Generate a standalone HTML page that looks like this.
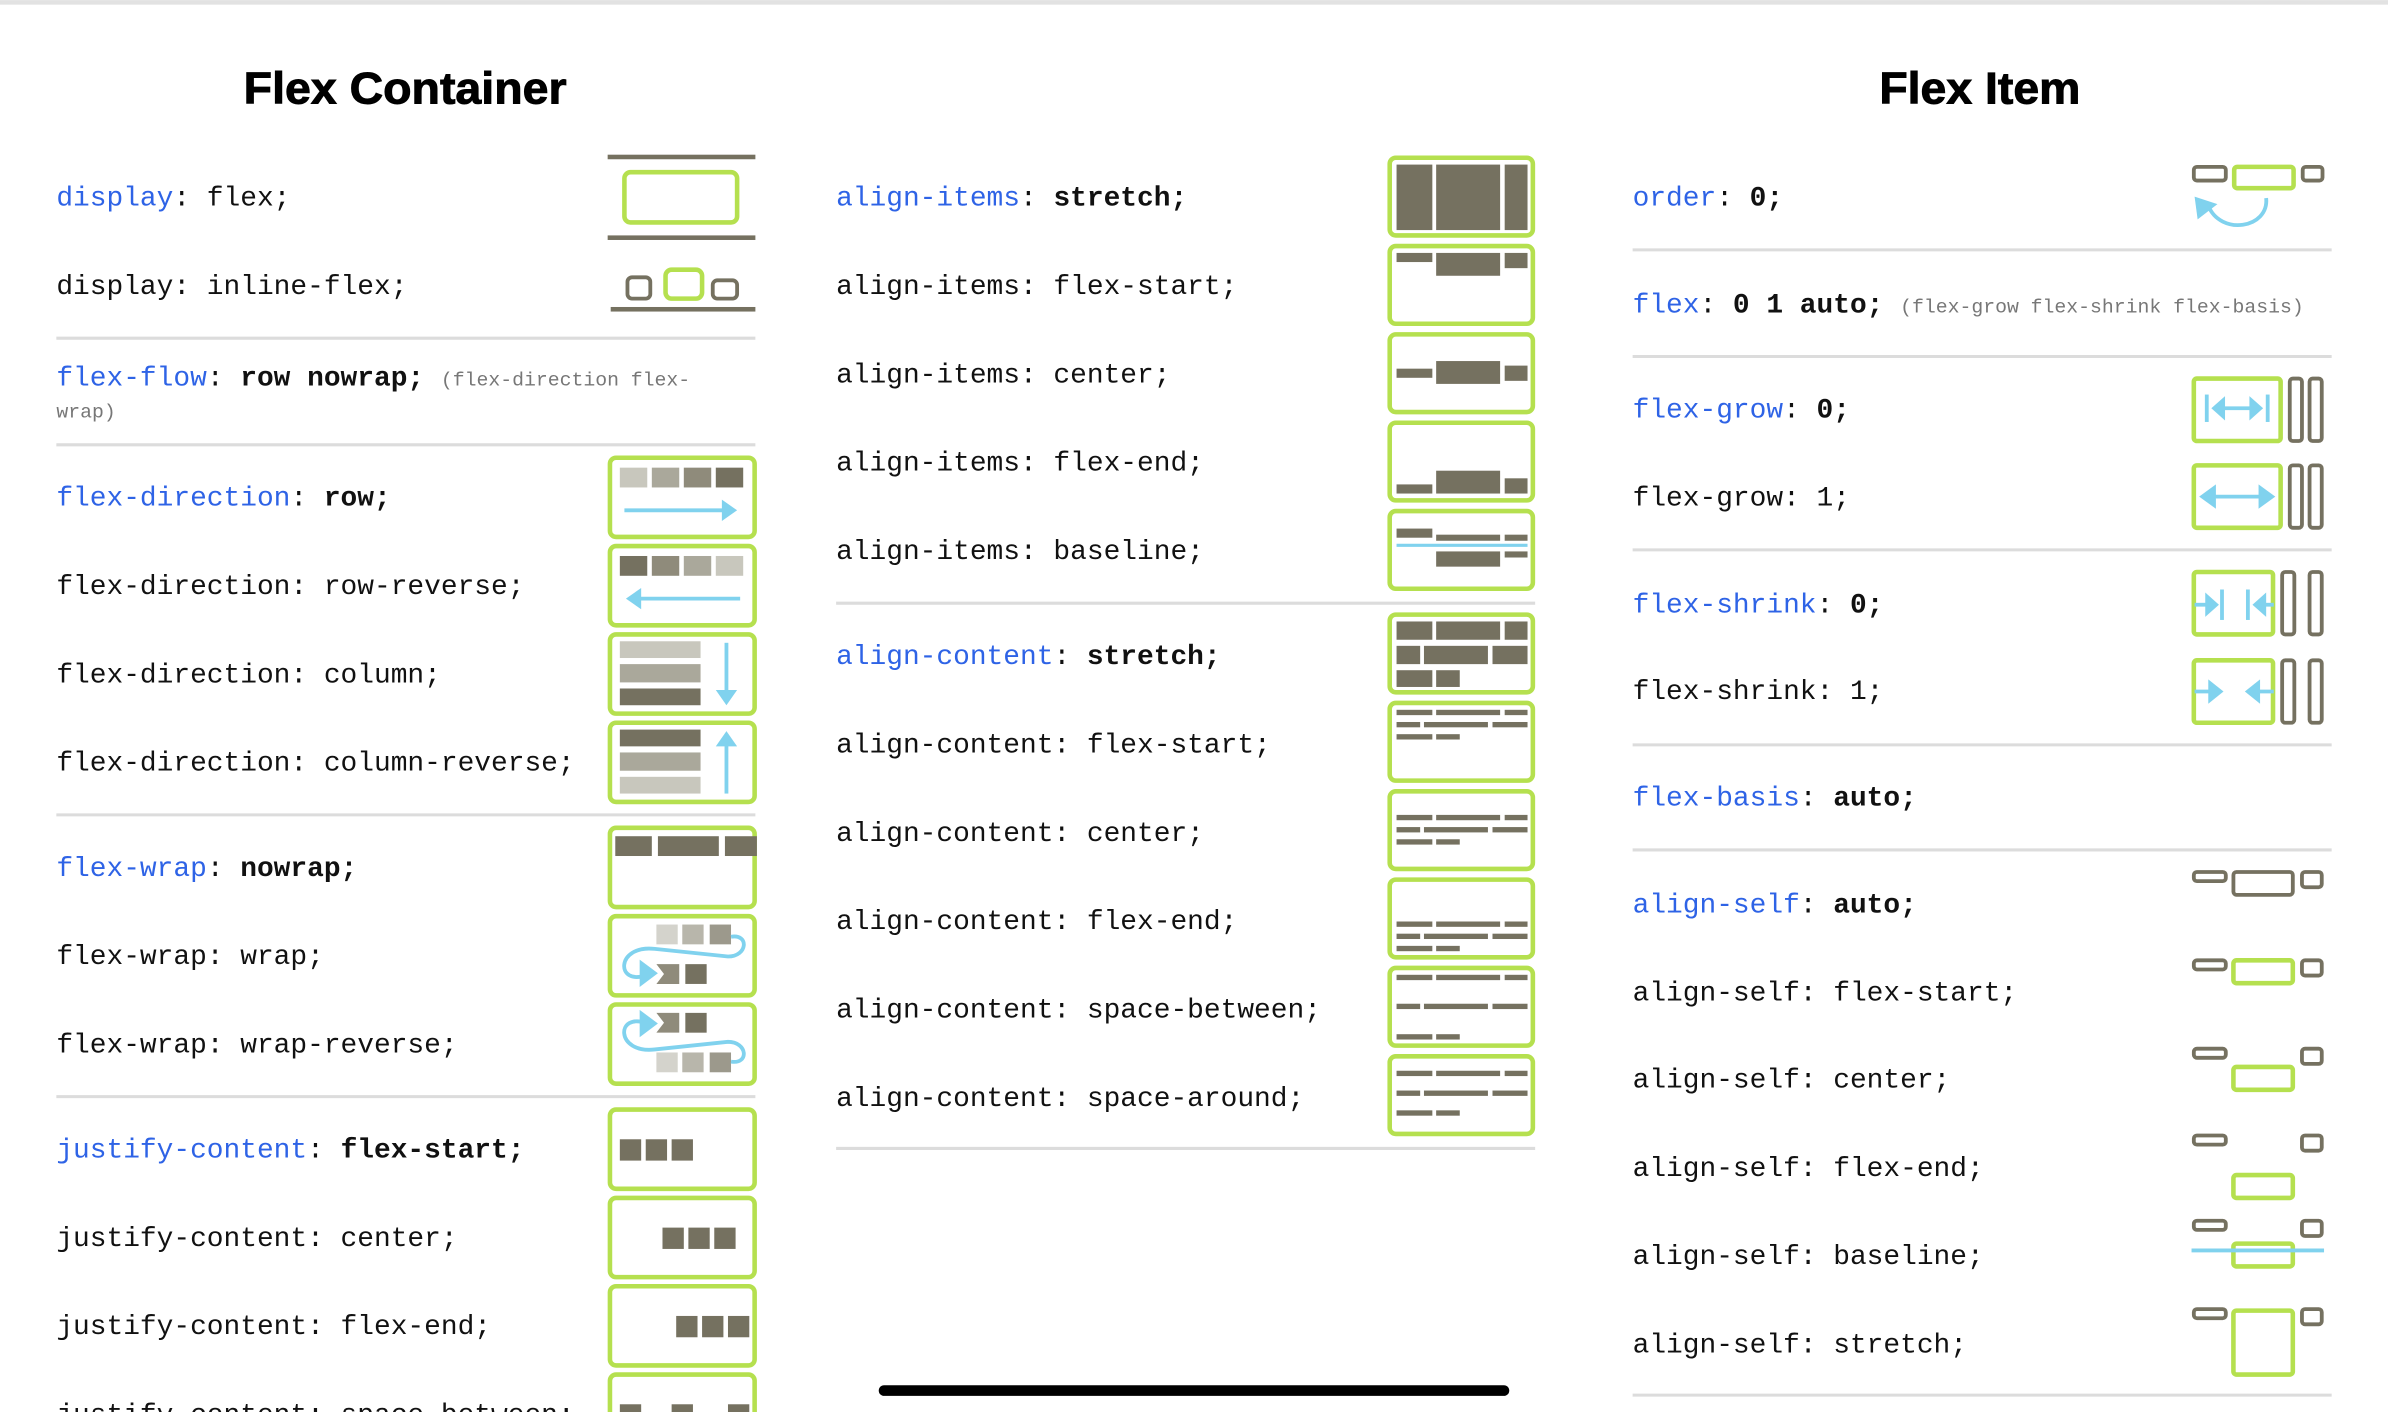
<!DOCTYPE html>
<html><head><meta charset="utf-8"><style>
html,body{margin:0;padding:0;background:#fff;width:2388px;height:1412px;overflow:hidden}
svg{display:block}
text{font-family:"Liberation Mono","DejaVu Sans Mono",monospace;font-size:18.3px;fill:#111}
.k{fill:#2e63e6}
.b{font-weight:bold}
.c{fill:#777;font-size:13px}
.t{font-family:"Liberation Sans",sans-serif;font-weight:bold;font-size:29px;fill:#000;stroke:#000;stroke-width:0.6}
.g{fill:#fff;stroke:#b5e04f;stroke-width:3}
.o{fill:#757160}
.ol{fill:#fff;stroke:#757160;stroke-width:2.5}
.sep{stroke:#dcdcdc;stroke-width:2}
.bl{stroke:#80d2ee;stroke-width:2.5;fill:none}
.blf{fill:#80d2ee}
</style></head><body>
<svg width="2388" height="1412" viewBox="0 0 1568 927" xmlns="http://www.w3.org/2000/svg">
<rect x="0" y="0" width="1568" height="3" fill="#e2e2e2"/>
<text class="t" x="266" y="68" text-anchor="middle" textLength="212" lengthAdjust="spacingAndGlyphs">Flex Container</text>
<text class="t" x="1300" y="68" text-anchor="middle" textLength="132" lengthAdjust="spacingAndGlyphs">Flex Item</text>

<text x="37" y="135"><tspan class="k">display</tspan>: flex;</text>
<text x="37" y="193">display: inline-flex;</text>
<line class="sep" x1="37" y1="222" x2="496" y2="222"/>
<text x="37" y="253"><tspan class="k">flex-flow</tspan>: <tspan class="b">row nowrap;</tspan> <tspan class="c">(flex-direction flex-</tspan></text>
<text x="37" y="274" class="c">wrap)</text>
<line class="sep" x1="37" y1="292" x2="496" y2="292"/>
<text x="37" y="332"><tspan class="k">flex-direction</tspan>: <tspan class="b">row;</tspan></text>
<text x="37" y="390">flex-direction: row-reverse;</text>
<text x="37" y="448">flex-direction: column;</text>
<text x="37" y="506">flex-direction: column-reverse;</text>
<line class="sep" x1="37" y1="535" x2="496" y2="535"/>
<text x="37" y="575"><tspan class="k">flex-wrap</tspan>: <tspan class="b">nowrap;</tspan></text>
<text x="37" y="633">flex-wrap: wrap;</text>
<text x="37" y="691">flex-wrap: wrap-reverse;</text>
<line class="sep" x1="37" y1="720" x2="496" y2="720"/>
<text x="37" y="760"><tspan class="k">justify-content</tspan>: <tspan class="b">flex-start;</tspan></text>
<text x="37" y="818">justify-content: center;</text>
<text x="37" y="876">justify-content: flex-end;</text>
<text x="37" y="934">justify-content: space-between;</text>

<rect class="o" x="399" y="101.5" width="97" height="3"/>
<rect class="o" x="399" y="154.5" width="97" height="3"/>
<rect class="g" x="410" y="113" width="74" height="33" rx="4"/>
<rect class="ol" x="412" y="182" width="15" height="14" rx="3"/>
<rect class="g" x="437" y="177" width="24" height="19" rx="4"/>
<rect class="ol" x="468" y="184" width="16" height="12" rx="3"/>
<rect class="o" x="401" y="201.5" width="95" height="3"/>

<rect class="g" x="400.5" y="300.5" width="95" height="52" rx="4"/>
<rect x="407" y="307" width="18" height="13" fill="#c8c7bd"/><rect x="428" y="307" width="18" height="13" fill="#aaa89b"/><rect x="449" y="307" width="18" height="13" fill="#8f8b7b"/><rect x="470" y="307" width="18" height="13" fill="#757160"/>
<line class="bl" x1="410" y1="335" x2="475" y2="335"/><polygon class="blf" points="484,335 474,328 474,342"/>
<rect class="g" x="400.5" y="358.5" width="95" height="52" rx="4"/>
<rect x="407" y="365" width="18" height="13" fill="#757160"/><rect x="428" y="365" width="18" height="13" fill="#8f8b7b"/><rect x="449" y="365" width="18" height="13" fill="#aaa89b"/><rect x="470" y="365" width="18" height="13" fill="#c8c7bd"/>
<line class="bl" x1="420" y1="393" x2="486" y2="393"/><polygon class="blf" points="411,393 421,386 421,400"/>
<rect class="g" x="400.5" y="416.5" width="95" height="52" rx="4"/>
<rect x="407" y="421" width="53" height="11" fill="#c8c7bd"/><rect x="407" y="436" width="53" height="12" fill="#aaa89b"/><rect x="407" y="452" width="53" height="11" fill="#757160"/>
<line class="bl" x1="477" y1="422" x2="477" y2="455"/><polygon class="blf" points="477,463 470,453 484,453"/>
<rect class="g" x="400.5" y="474.5" width="95" height="52" rx="4"/>
<rect x="407" y="479" width="53" height="11" fill="#757160"/><rect x="407" y="494" width="53" height="12" fill="#aaa89b"/><rect x="407" y="510" width="53" height="11" fill="#c8c7bd"/>
<line class="bl" x1="477" y1="488" x2="477" y2="521"/><polygon class="blf" points="477,480 470,490 484,490"/>

<rect class="g" x="400.5" y="543.5" width="95" height="52" rx="4"/>
<rect x="404" y="549" width="24" height="13" class="o"/><rect x="432" y="549" width="40" height="13" class="o"/><rect x="476" y="549" width="21" height="13" class="o"/>
<rect class="g" x="400.5" y="601.5" width="95" height="52" rx="4"/>
<rect x="431" y="607" width="14" height="13" fill="#d4d3cc"/><rect x="448" y="607" width="14" height="13" fill="#b8b6ab"/><rect x="466" y="607" width="14" height="13" fill="#9c998c"/>
<polygon points="431,633 446,633 446,646 431,646 436,639.5" fill="#8f8b7b"/><rect x="450" y="633" width="14" height="13" class="o"/>
<path class="bl" d="M480,615 C492,613 491,628 478,628 L430,623 C404,620 404,648 425,640"/>
<polygon class="blf" points="432,639 420,630 420,648"/>
<rect class="g" x="400.5" y="659.5" width="95" height="52" rx="4"/>
<polygon points="431,665 446,665 446,678 431,678 436,671.5" fill="#8f8b7b"/><rect x="450" y="665" width="14" height="13" class="o"/>
<rect x="431" y="691" width="14" height="13" fill="#d4d3cc"/><rect x="448" y="691" width="14" height="13" fill="#b8b6ab"/><rect x="466" y="691" width="14" height="13" fill="#9c998c"/>
<path class="bl" d="M480,697 C492,699 491,684 478,684 L430,689 C404,692 404,664 425,672"/>
<polygon class="blf" points="432,672 420,663 420,681"/>

<rect class="g" x="400.5" y="728.5" width="95" height="52" rx="4"/>
<rect class="o" x="407" y="748" width="14" height="14"/><rect class="o" x="424" y="748" width="14" height="14"/><rect class="o" x="441" y="748" width="14" height="14"/>
<rect class="g" x="400.5" y="786.5" width="95" height="52" rx="4"/>
<rect class="o" x="435" y="806" width="14" height="14"/><rect class="o" x="452" y="806" width="14" height="14"/><rect class="o" x="469" y="806" width="14" height="14"/>
<rect class="g" x="400.5" y="844.5" width="95" height="52" rx="4"/>
<rect class="o" x="444" y="864" width="14" height="14"/><rect class="o" x="461" y="864" width="14" height="14"/><rect class="o" x="478" y="864" width="14" height="14"/>
<rect class="g" x="400.5" y="902.5" width="95" height="52" rx="4"/>
<rect class="o" x="407" y="922" width="14" height="14"/><rect class="o" x="441" y="922" width="14" height="14"/><rect class="o" x="478" y="922" width="14" height="14"/>

<text x="549" y="135"><tspan class="k">align-items</tspan>: <tspan class="b">stretch;</tspan></text>
<text x="549" y="193">align-items: flex-start;</text>
<text x="549" y="251">align-items: center;</text>
<text x="549" y="309">align-items: flex-end;</text>
<text x="549" y="367">align-items: baseline;</text>
<line class="sep" x1="549" y1="396" x2="1008" y2="396"/>
<text x="549" y="436"><tspan class="k">align-content</tspan>: <tspan class="b">stretch;</tspan></text>
<text x="549" y="494">align-content: flex-start;</text>
<text x="549" y="552">align-content: center;</text>
<text x="549" y="610">align-content: flex-end;</text>
<text x="549" y="668">align-content: space-between;</text>
<text x="549" y="726">align-content: space-around;</text>
<line class="sep" x1="549" y1="754" x2="1008" y2="754"/>

<rect class="g" x="912.5" y="103.5" width="94" height="51" rx="4"/>
<rect class="o" x="917" y="108" width="23.5" height="43"/><rect class="o" x="943" y="108" width="42" height="43"/><rect class="o" x="988" y="108" width="15" height="43"/>
<rect class="g" x="912.5" y="161.5" width="94" height="51" rx="4"/>
<rect class="o" x="917" y="166" width="23.5" height="6"/><rect class="o" x="943" y="166" width="42" height="15"/><rect class="o" x="988" y="166" width="15" height="10"/>
<rect class="g" x="912.5" y="219.5" width="94" height="51" rx="4"/>
<rect class="o" x="917" y="242" width="23.5" height="6"/><rect class="o" x="943" y="237" width="42" height="15"/><rect class="o" x="988" y="240" width="15" height="10"/>
<rect class="g" x="912.5" y="277.5" width="94" height="51" rx="4"/>
<rect class="o" x="917" y="318" width="23.5" height="6"/><rect class="o" x="943" y="309" width="42" height="15"/><rect class="o" x="988" y="314" width="15" height="10"/>
<rect class="g" x="912.5" y="335.5" width="94" height="51" rx="4"/>
<rect class="o" x="917" y="347" width="23.5" height="6"/><rect class="o" x="943" y="351" width="42" height="4"/><rect class="o" x="988" y="351" width="15" height="4"/>
<rect class="o" x="943" y="362" width="42" height="10"/><rect class="o" x="988" y="362" width="15" height="4"/>
<line x1="917" y1="358" x2="1003" y2="358" stroke="#80d2ee" stroke-width="2"/>

<rect class="g" x="912.5" y="403.5" width="94" height="51" rx="4"/>
<rect class="o" x="917" y="408" width="23.5" height="12"/><rect class="o" x="943" y="408" width="42" height="12"/><rect class="o" x="988" y="408" width="15" height="12"/>
<rect class="o" x="917" y="424" width="15.5" height="12"/><rect class="o" x="935" y="424" width="42" height="12"/><rect class="o" x="980" y="424" width="23" height="12"/>
<rect class="o" x="917" y="440" width="23.5" height="11"/><rect class="o" x="943" y="440" width="15.5" height="11"/>
<rect class="g" x="912.5" y="461.5" width="94" height="51" rx="4"/>
<rect class="g" x="912.5" y="519.5" width="94" height="51" rx="4"/>
<rect class="g" x="912.5" y="577.5" width="94" height="51" rx="4"/>
<rect class="g" x="912.5" y="635.5" width="94" height="51" rx="4"/>
<rect class="g" x="912.5" y="693.5" width="94" height="51" rx="4"/>
<g class="o">
<rect x="917" y="466" width="23.5" height="3.5"/><rect x="943" y="466" width="42" height="3.5"/><rect x="988" y="466" width="15" height="3.5"/>
<rect x="917" y="474" width="15.5" height="3.5"/><rect x="935" y="474" width="42" height="3.5"/><rect x="980" y="474" width="23" height="3.5"/>
<rect x="917" y="482" width="23.5" height="3.5"/><rect x="943" y="482" width="15.5" height="3.5"/>
<rect x="917" y="535" width="23.5" height="3.5"/><rect x="943" y="535" width="42" height="3.5"/><rect x="988" y="535" width="15" height="3.5"/>
<rect x="917" y="543" width="15.5" height="3.5"/><rect x="935" y="543" width="42" height="3.5"/><rect x="980" y="543" width="23" height="3.5"/>
<rect x="917" y="551" width="23.5" height="3.5"/><rect x="943" y="551" width="15.5" height="3.5"/>
<rect x="917" y="605" width="23.5" height="3.5"/><rect x="943" y="605" width="42" height="3.5"/><rect x="988" y="605" width="15" height="3.5"/>
<rect x="917" y="613" width="15.5" height="3.5"/><rect x="935" y="613" width="42" height="3.5"/><rect x="980" y="613" width="23" height="3.5"/>
<rect x="917" y="621" width="23.5" height="3.5"/><rect x="943" y="621" width="15.5" height="3.5"/>
<rect x="917" y="640" width="23.5" height="3.5"/><rect x="943" y="640" width="42" height="3.5"/><rect x="988" y="640" width="15" height="3.5"/>
<rect x="917" y="659" width="15.5" height="3.5"/><rect x="935" y="659" width="42" height="3.5"/><rect x="980" y="659" width="23" height="3.5"/>
<rect x="917" y="679" width="23.5" height="3.5"/><rect x="943" y="679" width="15.5" height="3.5"/>
<rect x="917" y="703" width="23.5" height="3.5"/><rect x="943" y="703" width="42" height="3.5"/><rect x="988" y="703" width="15" height="3.5"/>
<rect x="917" y="716" width="15.5" height="3.5"/><rect x="935" y="716" width="42" height="3.5"/><rect x="980" y="716" width="23" height="3.5"/>
<rect x="917" y="729" width="23.5" height="3.5"/><rect x="943" y="729" width="15.5" height="3.5"/>
</g>

<text x="1072" y="135"><tspan class="k">order</tspan>: <tspan class="b">0;</tspan></text>
<line class="sep" x1="1072" y1="164" x2="1531" y2="164"/>
<text x="1072" y="205"><tspan class="k">flex</tspan>: <tspan class="b">0 1 auto;</tspan> <tspan class="c">(flex-grow flex-shrink flex-basis)</tspan></text>
<line class="sep" x1="1072" y1="234" x2="1531" y2="234"/>
<text x="1072" y="274"><tspan class="k">flex-grow</tspan>: <tspan class="b">0;</tspan></text>
<text x="1072" y="332">flex-grow: 1;</text>
<line class="sep" x1="1072" y1="361" x2="1531" y2="361"/>
<text x="1072" y="402"><tspan class="k">flex-shrink</tspan>: <tspan class="b">0;</tspan></text>
<text x="1072" y="459">flex-shrink: 1;</text>
<line class="sep" x1="1072" y1="489" x2="1531" y2="489"/>
<text x="1072" y="529"><tspan class="k">flex-basis</tspan>: <tspan class="b">auto;</tspan></text>
<line class="sep" x1="1072" y1="558" x2="1531" y2="558"/>
<text x="1072" y="599"><tspan class="k">align-self</tspan>: <tspan class="b">auto;</tspan></text>
<text x="1072" y="657">align-self: flex-start;</text>
<text x="1072" y="714">align-self: center;</text>
<text x="1072" y="772">align-self: flex-end;</text>
<text x="1072" y="830">align-self: baseline;</text>
<text x="1072" y="888">align-self: stretch;</text>
<line class="sep" x1="1072" y1="916" x2="1531" y2="916"/>

<rect class="ol" x="1440.5" y="109.5" width="21" height="9" rx="2"/>
<rect class="g" x="1467" y="109.5" width="39" height="14" rx="2"/>
<rect class="ol" x="1512" y="109.5" width="13" height="9" rx="2"/>
<path class="bl" d="M1488,130 C1490,150 1458,155 1450,135" stroke-width="3"/>
<polygon class="blf" points="1441,129 1456,134 1443,144"/>

<rect class="g" x="1440.5" y="248.5" width="57" height="41" rx="2"/>
<rect class="ol" x="1503.5" y="248.5" width="8" height="41" rx="2"/><rect class="ol" x="1516.5" y="248.5" width="8" height="41" rx="2"/>
<line class="bl" x1="1449" y1="259" x2="1449" y2="277"/><line class="bl" x1="1489" y1="259" x2="1489" y2="277"/>
<line class="bl" x1="1457" y1="268" x2="1481" y2="268"/>
<polygon class="blf" points="1452,268 1461,260 1461,276"/><polygon class="blf" points="1486,268 1477,260 1477,276"/>
<rect class="g" x="1440.5" y="305.5" width="57" height="41" rx="2"/>
<rect class="ol" x="1503.5" y="305.5" width="8" height="41" rx="2"/><rect class="ol" x="1516.5" y="305.5" width="8" height="41" rx="2"/>
<line class="bl" x1="1450" y1="326" x2="1488" y2="326"/>
<polygon class="blf" points="1444,326 1455,318 1455,334"/><polygon class="blf" points="1494,326 1483,318 1483,334"/>

<rect class="g" x="1440.5" y="375.5" width="52" height="41" rx="2"/>
<rect class="ol" x="1498.5" y="375.5" width="8" height="41" rx="2"/><rect class="ol" x="1516.5" y="375.5" width="8" height="41" rx="2"/>
<line class="bl" x1="1441" y1="397" x2="1450" y2="397"/><polygon class="blf" points="1457,397 1448,389 1448,405"/><line class="bl" x1="1459" y1="387" x2="1459" y2="407"/>
<line class="bl" x1="1484" y1="397" x2="1493" y2="397"/><polygon class="blf" points="1479,397 1488,389 1488,405"/><line class="bl" x1="1476" y1="387" x2="1476" y2="407"/>
<rect class="g" x="1440.5" y="433.5" width="52" height="41" rx="2"/>
<rect class="ol" x="1498.5" y="433.5" width="8" height="41" rx="2"/><rect class="ol" x="1516.5" y="433.5" width="8" height="41" rx="2"/>
<line class="bl" x1="1441" y1="454" x2="1452" y2="454"/><polygon class="blf" points="1460,454 1450,446 1450,462"/>
<line class="bl" x1="1482" y1="454" x2="1493" y2="454"/><polygon class="blf" points="1474,454 1484,446 1484,462"/>

<rect class="ol" x="1440.5" y="572.5" width="21" height="6" rx="2"/><rect class="ol" x="1466.5" y="572.5" width="39" height="15" rx="2"/><rect class="ol" x="1511.5" y="572.5" width="13" height="10" rx="2"/>
<rect class="ol" x="1440.5" y="630.5" width="21" height="6" rx="2"/><rect class="g" x="1466.5" y="630.5" width="39" height="15" rx="2"/><rect class="ol" x="1511.5" y="630.5" width="13" height="10" rx="2"/>
<rect class="ol" x="1440.5" y="688.5" width="21" height="6" rx="2"/><rect class="g" x="1466.5" y="700.5" width="39" height="15" rx="2"/><rect class="ol" x="1511.5" y="688.5" width="13" height="10" rx="2"/>
<rect class="ol" x="1440.5" y="745.5" width="21" height="6" rx="2"/><rect class="g" x="1466.5" y="771.5" width="39" height="15" rx="2"/><rect class="ol" x="1511.5" y="745.5" width="13" height="10" rx="2"/>
<rect class="ol" x="1440.5" y="801.5" width="21" height="6" rx="2"/><rect class="g" x="1466.5" y="816.5" width="39" height="15" rx="2"/><rect class="ol" x="1511.5" y="801.5" width="13" height="10" rx="2"/>
<line x1="1439" y1="821" x2="1526" y2="821" stroke="#80d2ee" stroke-width="2.5"/>
<rect class="ol" x="1440.5" y="859.5" width="21" height="6" rx="2"/><rect class="g" x="1466.5" y="860.5" width="39" height="42" rx="2"/><rect class="ol" x="1511.5" y="859.5" width="13" height="10" rx="2"/>

<rect x="577" y="909.5" width="414" height="7" rx="3.5" fill="#000"/>
</svg>
</body></html>
